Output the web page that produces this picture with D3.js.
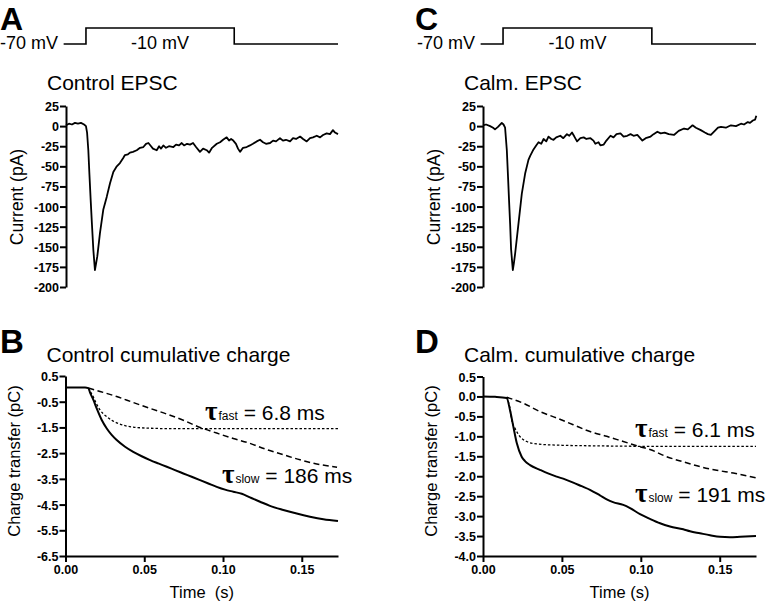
<!DOCTYPE html>
<html><head><meta charset="utf-8">
<script src="https://cdn.jsdelivr.net/npm/d3@7/dist/d3.min.js"></script>
<style>
body{margin:0;background:#fff;}
svg text{font-family:"Liberation Sans",Arial,Helvetica,sans-serif;fill:#000;}
.tick text{font-weight:bold;font-size:12.5px;}
</style></head><body>
<svg id="chart" width="769" height="603"></svg>
<script>
// ---------------- DATA ----------------
const timeTicks = [0, 0.05, 0.10, 0.15];
const timeTickLabels = ["0.00", "0.05", "0.10", "0.15"];
const currentTicks = [25, 0, -25, -50, -75, -100, -125, -150, -175, -200];
const chargeTicksB = [0.5, -0.5, -1.5, -2.5, -3.5, -4.5, -5.5, -6.5];
const chargeTicksD = [0.5, 0.0, -0.5, -1.0, -1.5, -2.0, -2.5, -3.0, -3.5, -4.0];

// voltage protocol: times (s) of start, step on, step off, end; levels (mV)
const stepTimes = [-0.0015, 0.0127, 0.107, 0.173];
const stepLevels = [-70, -10, -70];

// Panel A: control EPSC  [time s, current pA]
const controlEPSC = [
[0.0000,1],[0.0019,3],[0.0038,2],[0.0057,4],[0.0076,3],[0.0095,4],[0.0115,2],[0.0127,0],[0.0134,-8],
[0.0142,-30],[0.0149,-60],[0.0157,-92],[0.0165,-122],[0.0174,-154],[0.0184,-179],[0.0192,-170],[0.0199,-162],
[0.0216,-133],[0.0237,-104],[0.0259,-88],[0.0280,-71],[0.0301,-57],[0.0323,-50],[0.0343,-46],[0.0363,-40],
[0.0375,-36],[0.0394,-35],[0.0407,-33],[0.0426,-32],[0.0450,-30],[0.0471,-27],[0.0492,-26],[0.0509,-22],
[0.0524,-21],[0.0541,-25],[0.0553,-28],[0.0577,-30],[0.0592,-25],[0.0604,-28],[0.0619,-24],[0.0636,-27],
[0.0655,-25],[0.0683,-26],[0.0700,-23],[0.0719,-24],[0.0736,-21],[0.0751,-24],[0.0770,-22],[0.0789,-23],
[0.0808,-21],[0.0827,-26],[0.0852,-32],[0.0872,-28],[0.0895,-30],[0.0910,-33],[0.0929,-27],[0.0959,-22],
[0.0980,-20],[0.0999,-17],[0.1022,-14],[0.1037,-18],[0.1050,-16],[0.1064,-18],[0.1081,-22],[0.1094,-28],
[0.1107,-32],[0.1126,-27],[0.1149,-26],[0.1170,-24],[0.1189,-22],[0.1213,-19],[0.1234,-17],[0.1253,-20],
[0.1272,-22],[0.1298,-21],[0.1317,-18],[0.1336,-19],[0.1361,-15],[0.1380,-18],[0.1399,-17],[0.1425,-19],
[0.1444,-15],[0.1463,-16],[0.1489,-13],[0.1508,-16],[0.1531,-19],[0.1552,-15],[0.1571,-14],[0.1595,-12],
[0.1616,-14],[0.1635,-11],[0.1658,-9],[0.1679,-10],[0.1698,-5],[0.1711,-8],[0.1730,-10]];

// Panel C: calmidazolium EPSC  [time s, current pA]
const calmEPSC = [
[0.0000,1],[0.0019,2],[0.0045,0],[0.0064,-2],[0.0076,-4],[0.0095,-1],[0.0119,4],[0.0130,2],[0.0140,-2],
[0.0151,-30],[0.0159,-65],[0.0165,-92],[0.0172,-122],[0.0178,-153],[0.0189,-179],[0.0196,-170],[0.0204,-158],
[0.0225,-121],[0.0246,-84],[0.0267,-59],[0.0288,-42],[0.0299,-37],[0.0320,-29],[0.0337,-24],[0.0352,-20],
[0.0369,-22],[0.0384,-16],[0.0401,-19],[0.0415,-13],[0.0433,-16],[0.0447,-17],[0.0464,-14],[0.0490,-12],
[0.0509,-15],[0.0532,-10],[0.0547,-12],[0.0564,-8],[0.0579,-13],[0.0596,-19],[0.0617,-15],[0.0638,-14],
[0.0655,-16],[0.0681,-15],[0.0700,-18],[0.0712,-22],[0.0732,-20],[0.0744,-24],[0.0765,-23],[0.0782,-18],
[0.0808,-12],[0.0827,-14],[0.0846,-10],[0.0871,-9],[0.0891,-13],[0.0914,-12],[0.0935,-10],[0.0954,-12],
[0.0978,-11],[0.0992,-14],[0.1010,-18],[0.1031,-15],[0.1062,-13],[0.1081,-10],[0.1105,-7],[0.1126,-9],
[0.1151,-8],[0.1177,-10],[0.1210,-11],[0.1240,-6],[0.1274,-3],[0.1298,-4],[0.1328,1],[0.1349,-2],
[0.1380,-5],[0.1406,-8],[0.1425,-10],[0.1444,-11],[0.1469,-6],[0.1489,-2],[0.1508,-1],[0.1539,-2],
[0.1571,1],[0.1603,0],[0.1635,3],[0.1654,2],[0.1678,5],[0.1692,4],[0.1710,7],[0.1724,8],[0.1732,13]];

// Panel B: control cumulative charge [time s, charge pC]
const controlCharge = [
[0.0000,0.05],[0.0060,0.05],[0.0124,0.05],[0.0145,0.03],[0.0156,-0.15],[0.0177,-0.43],[0.0198,-0.76],
[0.0230,-1.21],[0.0262,-1.54],[0.0293,-1.79],[0.0325,-1.99],[0.0378,-2.25],[0.0430,-2.45],[0.0484,-2.62],
[0.0537,-2.77],[0.0589,-2.90],[0.0643,-3.03],[0.0695,-3.16],[0.0748,-3.29],[0.0801,-3.42],[0.0854,-3.55],
[0.0907,-3.68],[0.0960,-3.81],[0.1013,-3.92],[0.1065,-4.00],[0.1119,-4.08],[0.1171,-4.22],[0.1235,-4.39],
[0.1298,-4.55],[0.1383,-4.71],[0.1468,-4.85],[0.1552,-4.97],[0.1637,-5.07],[0.1730,-5.14]];
const controlSlow = [
[0.0145,0.03],[0.0219,-0.10],[0.0325,-0.30],[0.0430,-0.53],[0.0537,-0.76],[0.0643,-0.98],[0.0748,-1.22],
[0.0854,-1.50],[0.0960,-1.72],[0.1065,-1.93],[0.1171,-2.12],[0.1277,-2.36],[0.1383,-2.56],[0.1489,-2.76],
[0.1595,-2.92],[0.1724,-3.05]];
const controlFast = [
[0.0145,0.03],[0.0162,-0.15],[0.0177,-0.32],[0.0198,-0.60],[0.0219,-0.82],[0.0240,-0.97],[0.0262,-1.08],
[0.0293,-1.22],[0.0325,-1.32],[0.0378,-1.43],[0.0430,-1.49],[0.0537,-1.53],[0.0695,-1.55],[0.1730,-1.55]];

// Panel D: calmidazolium cumulative charge [time s, charge pC]
const calmCharge = [
[0.0000,0.00],[0.0076,-0.01],[0.0150,-0.04],[0.0171,-0.34],[0.0192,-0.75],[0.0214,-1.17],[0.0245,-1.51],
[0.0266,-1.62],[0.0298,-1.72],[0.0361,-1.84],[0.0412,-1.93],[0.0467,-2.01],[0.0520,-2.08],[0.0572,-2.16],
[0.0625,-2.25],[0.0678,-2.34],[0.0741,-2.48],[0.0784,-2.58],[0.0824,-2.65],[0.0889,-2.72],[0.0932,-2.80],
[0.0995,-2.95],[0.1058,-3.07],[0.1122,-3.18],[0.1185,-3.26],[0.1269,-3.33],[0.1312,-3.38],[0.1375,-3.43],
[0.1439,-3.48],[0.1502,-3.52],[0.1565,-3.53],[0.1629,-3.52],[0.1730,-3.50]];
const calmSlow = [
[0.0150,-0.02],[0.0255,-0.17],[0.0361,-0.38],[0.0467,-0.54],[0.0572,-0.71],[0.0678,-0.88],[0.0784,-1.00],
[0.0889,-1.13],[0.0995,-1.26],[0.1058,-1.33],[0.1164,-1.51],[0.1269,-1.64],[0.1375,-1.76],[0.1481,-1.85],
[0.1586,-1.92],[0.1730,-2.04]];
const calmFast = [
[0.0150,-0.02],[0.0171,-0.30],[0.0182,-0.59],[0.0203,-0.80],[0.0235,-1.01],[0.0277,-1.13],[0.0340,-1.19],
[0.0467,-1.22],[0.0741,-1.24],[0.1058,-1.25],[0.1730,-1.25]];

const tauLabels = {
  B: [{sub:"fast", val:"6.8 ms"}, {sub:"slow", val:"186 ms"}],
  D: [{sub:"fast", val:"6.1 ms"}, {sub:"slow", val:"191 ms"}]
};

// ---------------- DRAW ----------------
const svg = d3.select("#chart");

function txt(g, x, y, s, size, opts={}) {
  const t = g.append("text").attr("x", x).attr("y", y).text(s)
    .style("font-size", size + "px");
  if (opts.bold) t.style("font-weight", "bold");
  if (opts.anchor) t.attr("text-anchor", opts.anchor);
  if (opts.pre) t.style("white-space", "pre");
  return t;
}

function drawYAxis(x0, y, ticks, fmt) {
  const g = svg.append("g").attr("transform", `translate(${x0},0)`)
    .call(d3.axisLeft(y).tickValues(ticks).tickFormat(fmt).tickSize(6).tickPadding(1).tickSizeOuter(0));
  g.select(".domain").attr("stroke", "#000").attr("stroke-width", 2);
  g.selectAll(".tick line").attr("stroke", "#000").attr("stroke-width", 2);
  g.selectAll(".tick text").attr("dy", "0.36em");
  return g;
}
function drawXAxis(y0, x) {
  const g = svg.append("g").attr("transform", `translate(0,${y0})`)
    .call(d3.axisBottom(x).tickValues(timeTicks).tickFormat((d,i)=>timeTickLabels[i]).tickSize(6).tickPadding(3).tickSizeOuter(0));
  g.select(".domain").attr("stroke", "#000").attr("stroke-width", 2);
  g.selectAll(".tick line").attr("stroke", "#000").attr("stroke-width", 2);
  return g;
}

function currentPanel(cfg) {
  const x = d3.scaleLinear().domain([0, 0.173]).range([cfg.x0, cfg.x1]);
  const y = d3.scaleLinear().domain([25, -200]).range([106, 287]);
  txt(svg, cfg.letterX, 29.5, cfg.letter, 32, {bold:true});
  const vy = d3.scaleLinear().domain([-70, -10]).range([44, 28]);
  const stepPts = [];
  for (let i = 0; i < stepLevels.length; i++) {
    stepPts.push([x(stepTimes[i]), vy(stepLevels[i])]);
    stepPts.push([x(stepTimes[i+1]), vy(stepLevels[i])]);
  }
  svg.append("path").attr("d", d3.line()(stepPts)).attr("fill","none")
    .attr("stroke","#000").attr("stroke-width",1.6);
  txt(svg, cfg.x0 - 66, 49, "-70 mV", 18);
  txt(svg, (x(stepTimes[1]) + x(stepTimes[2]))/2, 49, "-10 mV", 18, {anchor:"middle"});
  txt(svg, cfg.x0 - 19, 90, cfg.title, 21);
  drawYAxis(cfg.x0, y, currentTicks, d => String(d));
  svg.append("text").attr("transform", `translate(${cfg.x0 - 43},197) rotate(-90)`)
    .attr("text-anchor","middle").style("font-size","17.5px").text("Current (pA)");
  svg.append("path").datum(cfg.data)
    .attr("d", d3.line().x(d=>x(d[0])).y(d=>y(d[1])))
    .attr("fill","none").attr("stroke","#000").attr("stroke-width",1.8).attr("stroke-linejoin","round");
}

function chargePanel(cfg) {
  const x = d3.scaleLinear().domain([0, 0.173]).range([cfg.x0, cfg.x1]);
  const y = d3.scaleLinear().domain(cfg.yDomain).range([cfg.yTop, 556]);
  txt(svg, cfg.letterX, 353, cfg.letter, 33, {bold:true});
  txt(svg, cfg.x0 - 19, 362, cfg.title, 21);
  drawYAxis(cfg.x0, y, cfg.ticks, cfg.fmt);
  drawXAxis(556, x);
  svg.append("text").attr("transform", `translate(${cfg.x0 - 46},461) rotate(-90)`)
    .attr("text-anchor","middle").style("font-size","16.5px").text("Charge transfer (pC)");
  txt(svg, (cfg.x0 + cfg.x1)/2, 598, cfg.xTitle, 16.5, {anchor:"middle", pre:true});
  const line = d3.line().x(d=>x(d[0])).y(d=>y(d[1])).curve(d3.curveMonotoneX);
  svg.append("path").datum(cfg.fast).attr("d", line).attr("fill","none")
    .attr("stroke","#000").attr("stroke-width",1.3).attr("stroke-dasharray","2.5,2");
  svg.append("path").datum(cfg.slow).attr("d", line).attr("fill","none")
    .attr("stroke","#000").attr("stroke-width",1.5).attr("stroke-dasharray","6,3.5");
  svg.append("path").datum(cfg.total).attr("d", line).attr("fill","none")
    .attr("stroke","#000").attr("stroke-width",2);
  cfg.labels.forEach((lab, i) => {
    const p = cfg.labelPos[i];
    const t = svg.append("text").attr("x", p[0]).attr("y", p[1]);
    t.append("tspan").text("τ").style("font-family",'"Liberation Serif","DejaVu Serif",serif')
      .style("font-weight","bold").style("font-size","27px");
    t.append("tspan").text(lab.sub).style("font-size","12px").attr("dx", 1);
    t.append("tspan").text(" = " + lab.val).style("font-size","21px").style("white-space","pre");
  });
}

currentPanel({x0:66, x1:338, letter:"A", letterX:0, title:"Control EPSC", data:controlEPSC});
currentPanel({x0:483, x1:756, letter:"C", letterX:415, title:"Calm. EPSC", data:calmEPSC});

chargePanel({x0:65.5, x1:338, letter:"B", letterX:0, title:"Control cumulative charge",
  yDomain:[0.5,-6.5], yTop:376, ticks:chargeTicksB, fmt:d=>d.toFixed(1),
  xTitle:"Time  (s)", total:controlCharge, slow:controlSlow, fast:controlFast,
  labels:tauLabels.B, labelPos:[[205,420],[222,483]]});
chargePanel({x0:483, x1:756, letter:"D", letterX:415, title:"Calm. cumulative charge",
  yDomain:[0.5,-4.0], yTop:376.5, ticks:chargeTicksD, fmt:d=>d.toFixed(1),
  xTitle:"Time (s)", total:calmCharge, slow:calmSlow, fast:calmFast,
  labels:tauLabels.D, labelPos:[[635,437],[635,502]]});
</script>
</body></html>
